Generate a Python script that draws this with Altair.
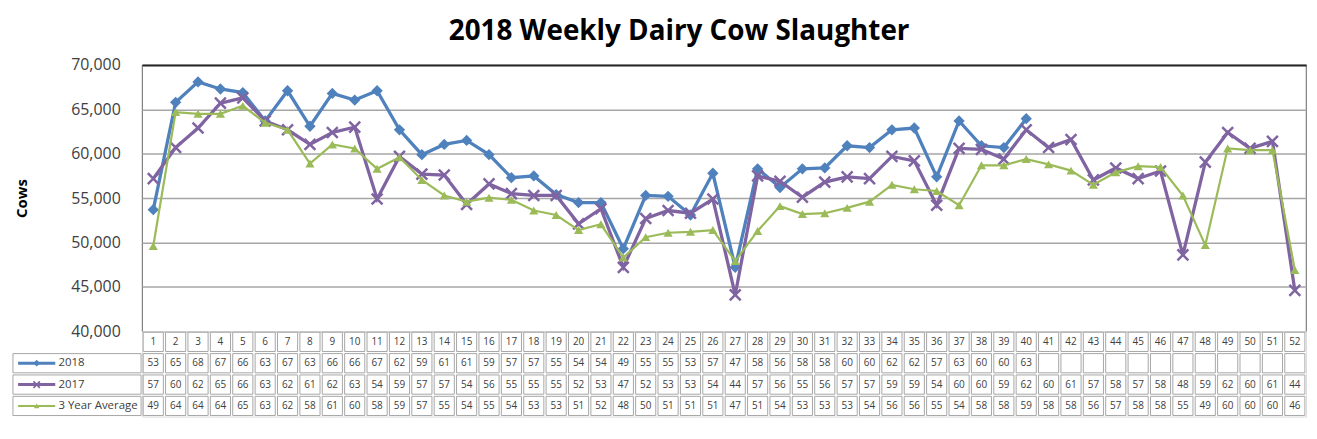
import altair as alt
import pandas as pd

# ---------------- data ----------------
weeks = list(range(1, 53))
series_names = ["2018", "2017", "3 Year Average"]
series_colors = ["#4f81bd", "#8064a2", "#9bbb59"]

cows_2018 = [53700, 65800, 68100, 67300, 66900, 63700, 67100, 63100, 66800, 66050,
             67100, 62700, 59900, 61050, 61500, 59900, 57300, 57500, 55400, 54500,
             54500, 49300, 55300, 55200, 53100, 57800, 47200, 58300, 56200, 58300,
             58400, 60900, 60700, 62700, 62900, 57400, 63700, 60900, 60700, 63950]
cows_2017 = [57200, 60700, 62900, 65700, 66300, 63700, 62700, 61050, 62400, 63000,
             54900, 59700, 57700, 57600, 54300, 56600, 55500, 55300, 55300, 52100,
             53800, 47200, 52700, 53600, 53300, 54900, 44100, 57500, 56900, 55100,
             56800, 57400, 57200, 59700, 59200, 54200, 60600, 60500, 59400, 62700,
             60700, 61600, 57050, 58400, 57200, 58050, 48600, 59050, 62400, 60600,
             61400, 44600]
cows_3yr = [49600, 64700, 64500, 64500, 65400, 63500, 62700, 58900, 61050, 60600,
            58300, 59600, 57050, 55300, 54600, 55050, 54800, 53600, 53100, 51400,
            52050, 48300, 50600, 51100, 51200, 51400, 47900, 51300, 54100, 53200,
            53300, 53900, 54600, 56500, 56000, 55800, 54200, 58700, 58700, 59400,
            58800, 58100, 56500, 57900, 58600, 58500, 55300, 49700, 60600, 60400,
            60400, 46900]
y_ticks = [40000, 45000, 50000, 55000, 60000, 65000, 70000]

all_series = [cows_2018, cows_2017, cows_3yr]

# ---------------- styling ----------------
FONT = "Open Sans"
TEXT_GRAY = "#404040"
GRID_GRAY = "#a6a6a6"
PLOT_W = 1172
PLOT_H = 268
TABLE_H = 86
X_PATH = "M-1,-1L1,1M-1,1L1,-1"

styles = {
    "2018": dict(lw=3.3, shape="diamond", size=130, filled=True, sw=1),
    "2017": dict(lw=3.3, shape=X_PATH, size=120, filled=False, sw=2.5),
    "3 Year Average": dict(lw=2.2, shape="triangle-up", size=85, filled=True, sw=1),
}

# ---------------- line chart ----------------
line_df = pd.DataFrame(
    [dict(week=w, series=s, cows=v)
     for s, vals in zip(series_names, all_series)
     for w, v in zip(weeks, vals)]
)

x_top = alt.X("week:O", scale=alt.Scale(type="point", domain=weeks, padding=0.5), axis=None)
y_top = alt.Y(
    "cows:Q",
    scale=alt.Scale(domain=[40000, 70000], nice=False, zero=False),
    axis=alt.Axis(
        values=y_ticks, format=",.0f", title="Cows",
        titleFont=FONT, titleFontSize=15, titleFontWeight="bold", titleColor="black",
        titlePadding=41,
        labelFont=FONT, labelFontSize=16, labelColor=TEXT_GRAY, labelPadding=22,
        ticks=False, domain=False,
        gridColor=alt.expr(f"datum.value == 70000 ? '#262626' : '{GRID_GRAY}'"),
        gridWidth=alt.expr("datum.value == 70000 ? 2 : 1.5"),
    ),
)

base = alt.Chart(line_df)
top_layers = []
for s, c in zip(series_names, series_colors):
    st = styles[s]
    sub = base.transform_filter(alt.datum.series == s)
    top_layers.append(
        sub.mark_line(color=c, strokeWidth=st["lw"]).encode(x=x_top, y=y_top)
    )
    top_layers.append(
        sub.mark_point(shape=st["shape"], size=st["size"], filled=st["filled"],
                       color=c, strokeWidth=st["sw"], opacity=1)
        .encode(x=x_top, y=y_top)
    )

top = alt.layer(*top_layers).properties(
    width=PLOT_W, height=PLOT_H,
    view=alt.ViewBackground(stroke="#7f7f7f", strokeWidth=1.2),
)

# ---------------- data table ----------------
row_keys = ["week"] + series_names
table_rows = [dict(week=w, row="week", label=str(w)) for w in weeks]
for s, vals in zip(series_names, all_series):
    for i, w in enumerate(weeks):
        label = str(vals[i] // 1000) if i < len(vals) else ""
        table_rows.append(dict(week=w, row=s, label=label))
table_df = pd.DataFrame(table_rows)

x_tab = alt.X("week:O", scale=alt.Scale(domain=weeks, paddingInner=0.1, paddingOuter=0.05), axis=None)
y_tab = alt.Y("row:N", sort=row_keys,
              scale=alt.Scale(domain=row_keys, paddingInner=0.1, paddingOuter=0.05), axis=None)

cells = alt.Chart(table_df).mark_rect(fill="white", stroke=GRID_GRAY, strokeWidth=1).encode(x=x_tab, y=y_tab)
texts = alt.Chart(table_df).mark_text(font=FONT, fontSize=10, color=TEXT_GRAY).encode(
    x=x_tab, y=y_tab, text="label:N")

# legend column (left of the table)
leg_df = pd.DataFrame({"row": series_names})
leg_scale = alt.Scale(domain=[0, 1], range=[-130, -1])


def lx(v):
    return alt.X(datum=v, type="quantitative", scale=leg_scale, axis=None)


leg_base = alt.Chart(leg_df)
leg_layers = [
    leg_base.mark_rect(fill="white", stroke=GRID_GRAY, strokeWidth=1).encode(
        x=lx(0.0), x2=alt.X2(datum=1.0), y=y_tab),
]
for s, c in zip(series_names, series_colors):
    st = styles[s]
    sub = leg_base.transform_filter(alt.datum.row == s)
    leg_layers.append(
        sub.mark_rule(color=c, strokeWidth=3 if s != "3 Year Average" else 2).encode(
            x=lx(0.04), x2=alt.X2(datum=0.33), y=y_tab)
    )
    leg_layers.append(
        sub.mark_point(shape=st["shape"], size=st["size"] * 0.35, filled=st["filled"],
                       color=c, strokeWidth=st["sw"] * 0.7, opacity=1)
        .encode(x=lx(0.185), y=y_tab)
    )
leg_layers.append(
    leg_base.mark_text(font=FONT, fontSize=11.5, color=TEXT_GRAY, align="left").encode(
        x=lx(0.355), y=y_tab, text="row:N")
)

table = alt.layer(cells, texts, *leg_layers).resolve_scale(x="independent").properties(
    width=PLOT_W, height=TABLE_H)

chart = (
    alt.vconcat(top, table, spacing=0, bounds="flush")
    .properties(
        title=alt.TitleParams(
            "2018 Weekly Dairy Cow Slaughter", font=FONT, fontSize=28,
            fontWeight="bold", color="black", anchor="middle", offset=11, dx=20),
        padding={"left": 4, "top": 8, "right": 2, "bottom": 2},
    )
    .configure_view(stroke=None)
    .configure(font=FONT)
)

chart.save("out.html", embed_options={"renderer": "svg", "actions": False})
